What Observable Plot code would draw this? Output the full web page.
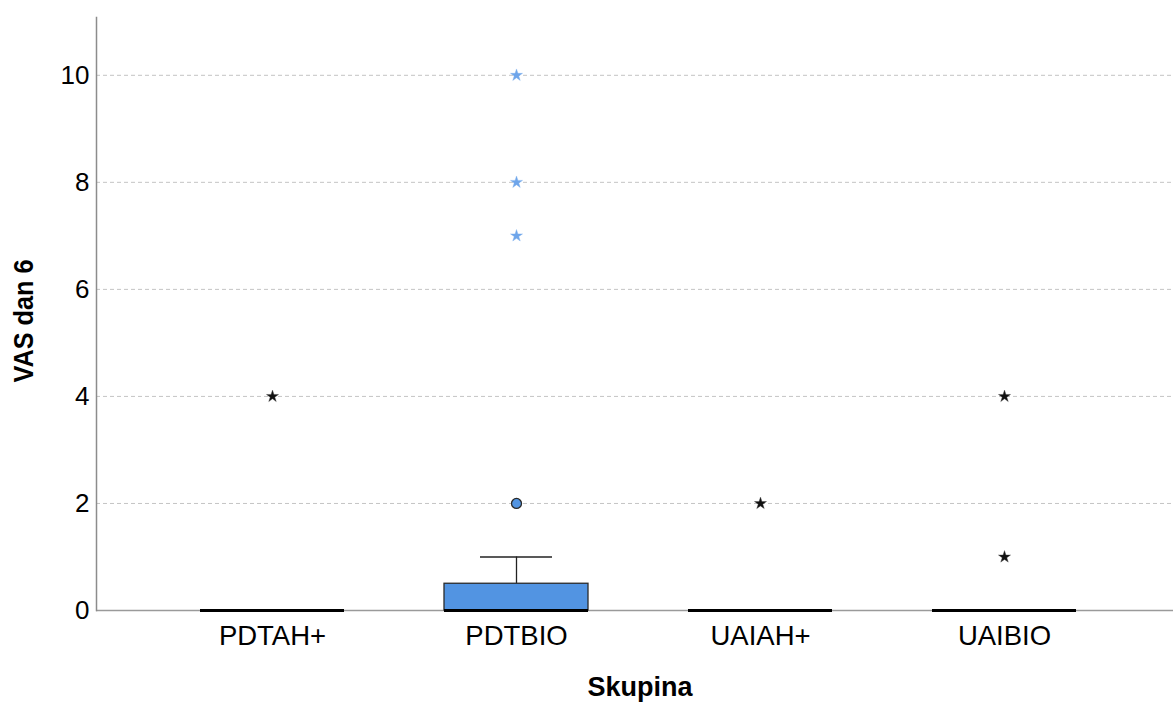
<!DOCTYPE html>
<html><head><meta charset="utf-8">
<script src="https://cdn.jsdelivr.net/npm/d3@7"></script>
<script src="https://cdn.jsdelivr.net/npm/@observablehq/plot@0.6"></script>
<style>body{margin:0;background:#fff} svg{display:block}</style>
</head><body><div id="chart"></div>
<script>
// Box-plot summary values per group
const groups = ["PDTAH+", "PDTBIO", "UAIAH+", "UAIBIO"];
const q1 = [0, 0, 0, 0];
const median = [0, 0, 0, 0];
const q3 = [0, 0.5, 0, 0];
const whiskerLow = [0, 0, 0, 0];
const whiskerHigh = [0, 1, 0, 0];
// Outliers (circles) and extreme values (stars)
const outlierGroup = ["PDTBIO"];
const outlierValue = [2];
const extremeGroup = ["PDTAH+", "PDTBIO", "PDTBIO", "PDTBIO", "UAIAH+", "UAIBIO", "UAIBIO"];
const extremeValue = [4, 7, 8, 10, 2, 4, 1];
const yTicks = [0, 2, 4, 6, 8, 10];
const gridTicks = [2, 4, 6, 8, 10];
const yLabel = "VAS dan 6";
const xLabel = "Skupina";

const boxFill = "#5294e2";
const starBlue = "#6ea5ea";

const boxes = groups.map((g, i) => ({group: g, q1: q1[i], median: median[i], q3: q3[i], lo: whiskerLow[i], hi: whiskerHigh[i]}));
const hasBox = new Set(boxes.filter(d => d.q3 > d.q1).map(d => d.group));
const outliers = outlierGroup.map((g, i) => ({group: g, value: outlierValue[i]}));
const extremes = extremeGroup.map((g, i) => ({group: g, value: extremeValue[i]}));

const chart = Plot.plot({
  width: 1173,
  height: 702,
  marginLeft: 96,
  marginRight: 0,
  marginTop: 17,
  marginBottom: 92,
  style: {fontFamily: "'Liberation Sans', Arial, sans-serif", color: "#000", background: "#fff"},
  x: {domain: groups, range: [96, 1180], paddingInner: 0.41, paddingOuter: 0.426},
  y: {domain: [0, 11.08]},
  marks: [
    Plot.ruleY(gridTicks, {stroke: "#c4c4c4", strokeWidth: 1, strokeDasharray: "4,3"}),
    Plot.ruleY([0], {stroke: "#9a9a9a", strokeWidth: 1.5}),
    Plot.frame({anchor: "left", stroke: "#8c8c8c", strokeWidth: 1.5}),
    Plot.ruleX(boxes.filter(d => d.hi > d.q3), {x: "group", y1: "q3", y2: "hi", stroke: "#222", strokeWidth: 1.3}),
    Plot.tickY(boxes.filter(d => d.hi > d.q3), {x: "group", y: "hi", stroke: "#222", strokeWidth: 1.3, insetLeft: 36, insetRight: 36}),
    Plot.barY(boxes.filter(d => d.q3 > d.q1), {x: "group", y1: "q1", y2: "q3", fill: boxFill, stroke: "#2a2a2a", strokeWidth: 1.3}),
    Plot.tickY(boxes, {x: "group", y: "median", stroke: "#000", strokeWidth: 3}),
    Plot.dot(outliers, {x: "group", y: "value", r: 5, fill: boxFill, stroke: "#2a2a2a", strokeWidth: 1.3}),
    Plot.dot(extremes, {x: "group", y: "value", symbol: "star", r: 3.8, fill: d => hasBox.has(d.group) ? starBlue : "#111", stroke: d => hasBox.has(d.group) ? "#7fb0ee" : "#444", strokeWidth: 0.4}),
    Plot.axisY({ticks: yTicks, tickSize: 0, tickPadding: 7, fontSize: 26, label: null}),
    Plot.axisX({tickSize: 0, tickPadding: 15, fontSize: 27.5, label: null}),
    Plot.text([yLabel], {text: d => d, frameAnchor: "left", textAnchor: "start", rotate: -90, dx: -72, dy: 68.5, fontSize: 27, fontWeight: "bold"}),
    Plot.text([xLabel], {text: d => d, frameAnchor: "bottom", dx: 5, dy: 85, fontSize: 27, fontWeight: "bold"})
  ]
});
chart.querySelectorAll("text").forEach(t => {
  if (t.textContent === yLabel) {
    t.setAttribute("textLength", "123");
    t.setAttribute("lengthAdjust", "spacingAndGlyphs");
  }
});
document.getElementById("chart").appendChild(chart);
</script>
</body></html>
